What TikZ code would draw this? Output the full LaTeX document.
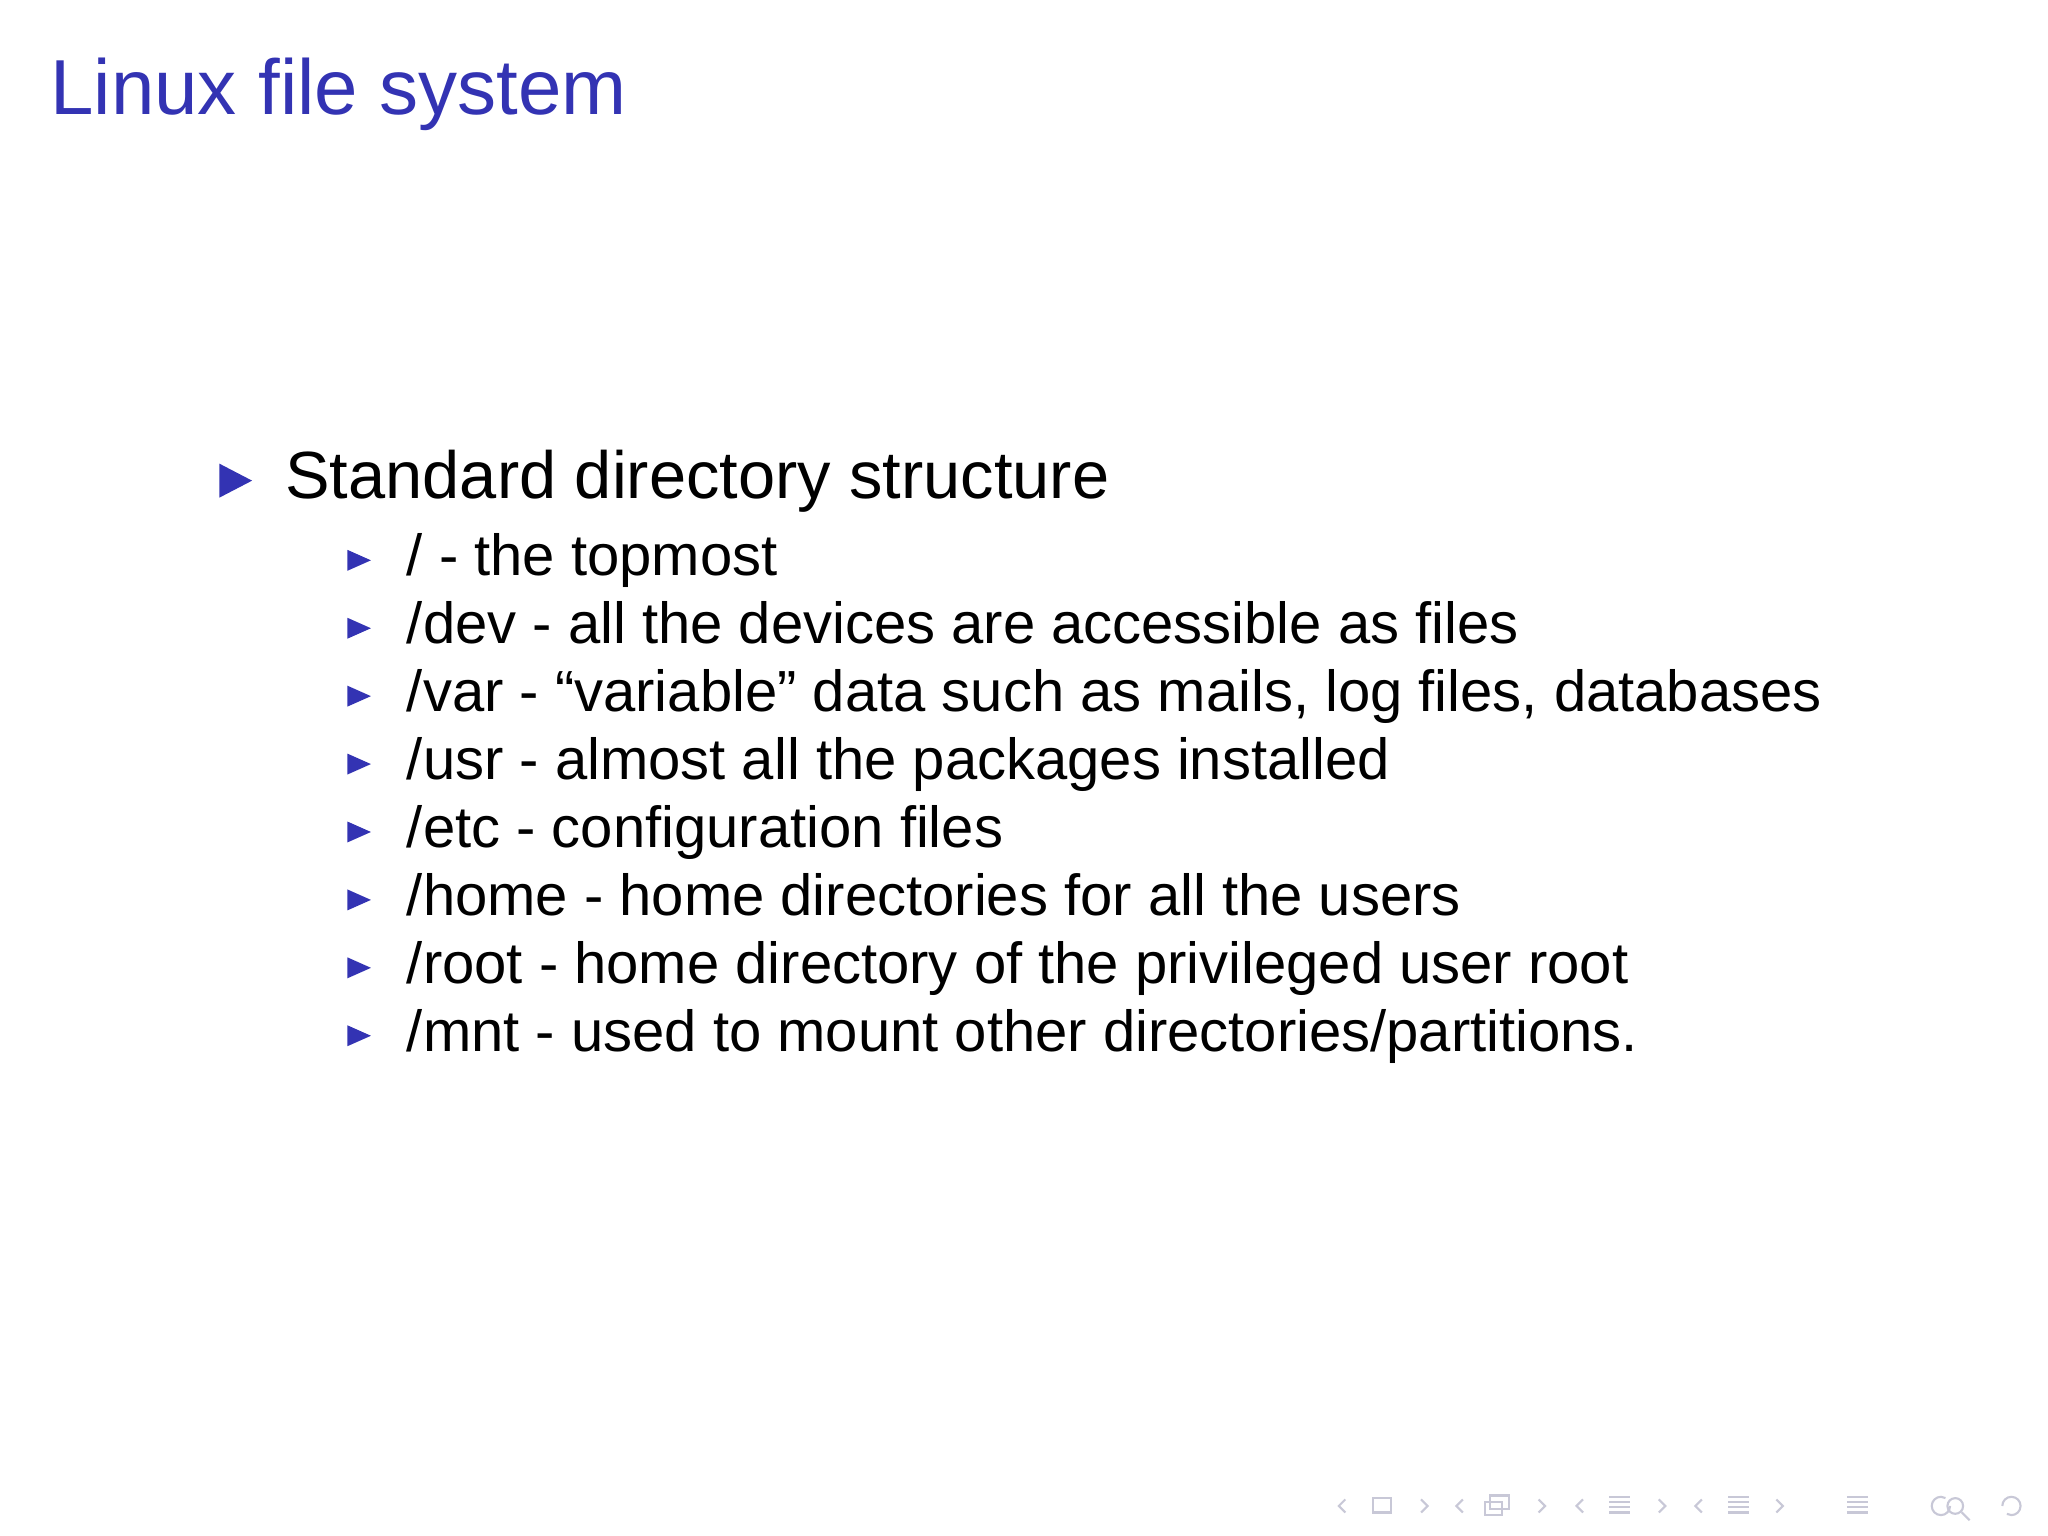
\documentclass[tikz,border=0pt]{standalone}
\usepackage{fontspec}
\setmainfont{Liberation Sans}
\definecolor{bblue}{RGB}{51,51,179}
\definecolor{navg}{RGB}{200,200,215}
\begin{document}
\begin{tikzpicture}[x=0.01306cm,y=-0.01306cm,
  title/.style={anchor=base west,inner sep=0,text=bblue,font=\fontsize{22.2}{26}\selectfont},
  lvlone/.style={anchor=base west,inner sep=0,font=\fontsize{19}{23}\selectfont},
  lvltwo/.style={anchor=base west,inner sep=0,font=\fontsize{16.5}{20}\selectfont},
  bulone/.style={fill=bblue,draw=none},
  nav/.style={draw=navg,line width=0.6pt}]
\useasboundingbox (0,0) rectangle (1568,1176);
\fill[white] (0,0) rectangle (1568,1176);
\node[title] (t) at (38,88) {Linux file system};
\fill[bulone] (168,355) -- (193,368) -- (168,381) -- cycle;
\node[lvlone] (m) at (218,382) {Standard directory structure};
\foreach \y/\txt [count=\i] in {441/{/ - the topmost},
  493/{/dev - all the devices are accessible as files},
  545/{/var - “variable” data such as mails, log files, databases},
  597/{/usr - almost all the packages installed},
  649/{/etc - configuration files},
  701/{/home - home directories for all the users},
  753/{/root - home directory of the privileged user root},
  805/{/mnt - used to mount other directories/partitions.}}{
  \fill[bulone] (266,\y-20) -- (284,\y-12) -- (266,\y-4) -- cycle;
  \node[lvltwo] (s\i) at (311,\y) {\txt};
}
% navigation symbols
\foreach \x in {1030,1120,1212,1303}{\draw[nav] (\x,1148)--(\x-5,1153)--(\x,1158);}
\foreach \x in {1088,1178,1270,1360}{\draw[nav] (\x,1148)--(\x+5,1153)--(\x,1158);}
\draw[nav] (1051,1147) rectangle (1065,1158);
\draw[nav] (1137,1150) rectangle (1150,1160); \draw[nav] (1141,1145) rectangle (1155,1155);
\foreach \x in {1240,1331,1422}{\foreach \d in {0,4,8,12}{\draw[nav] (\x-8,1146+\d)--(\x+8,1146+\d);}}
\draw[nav] (1493,1153) arc (0:300:7); \draw[nav] (1497,1153) circle (6) (1502,1158)--(1508,1164);
\draw[nav] (1533,1153) arc (180:480:7);
\end{tikzpicture}
\end{document}
